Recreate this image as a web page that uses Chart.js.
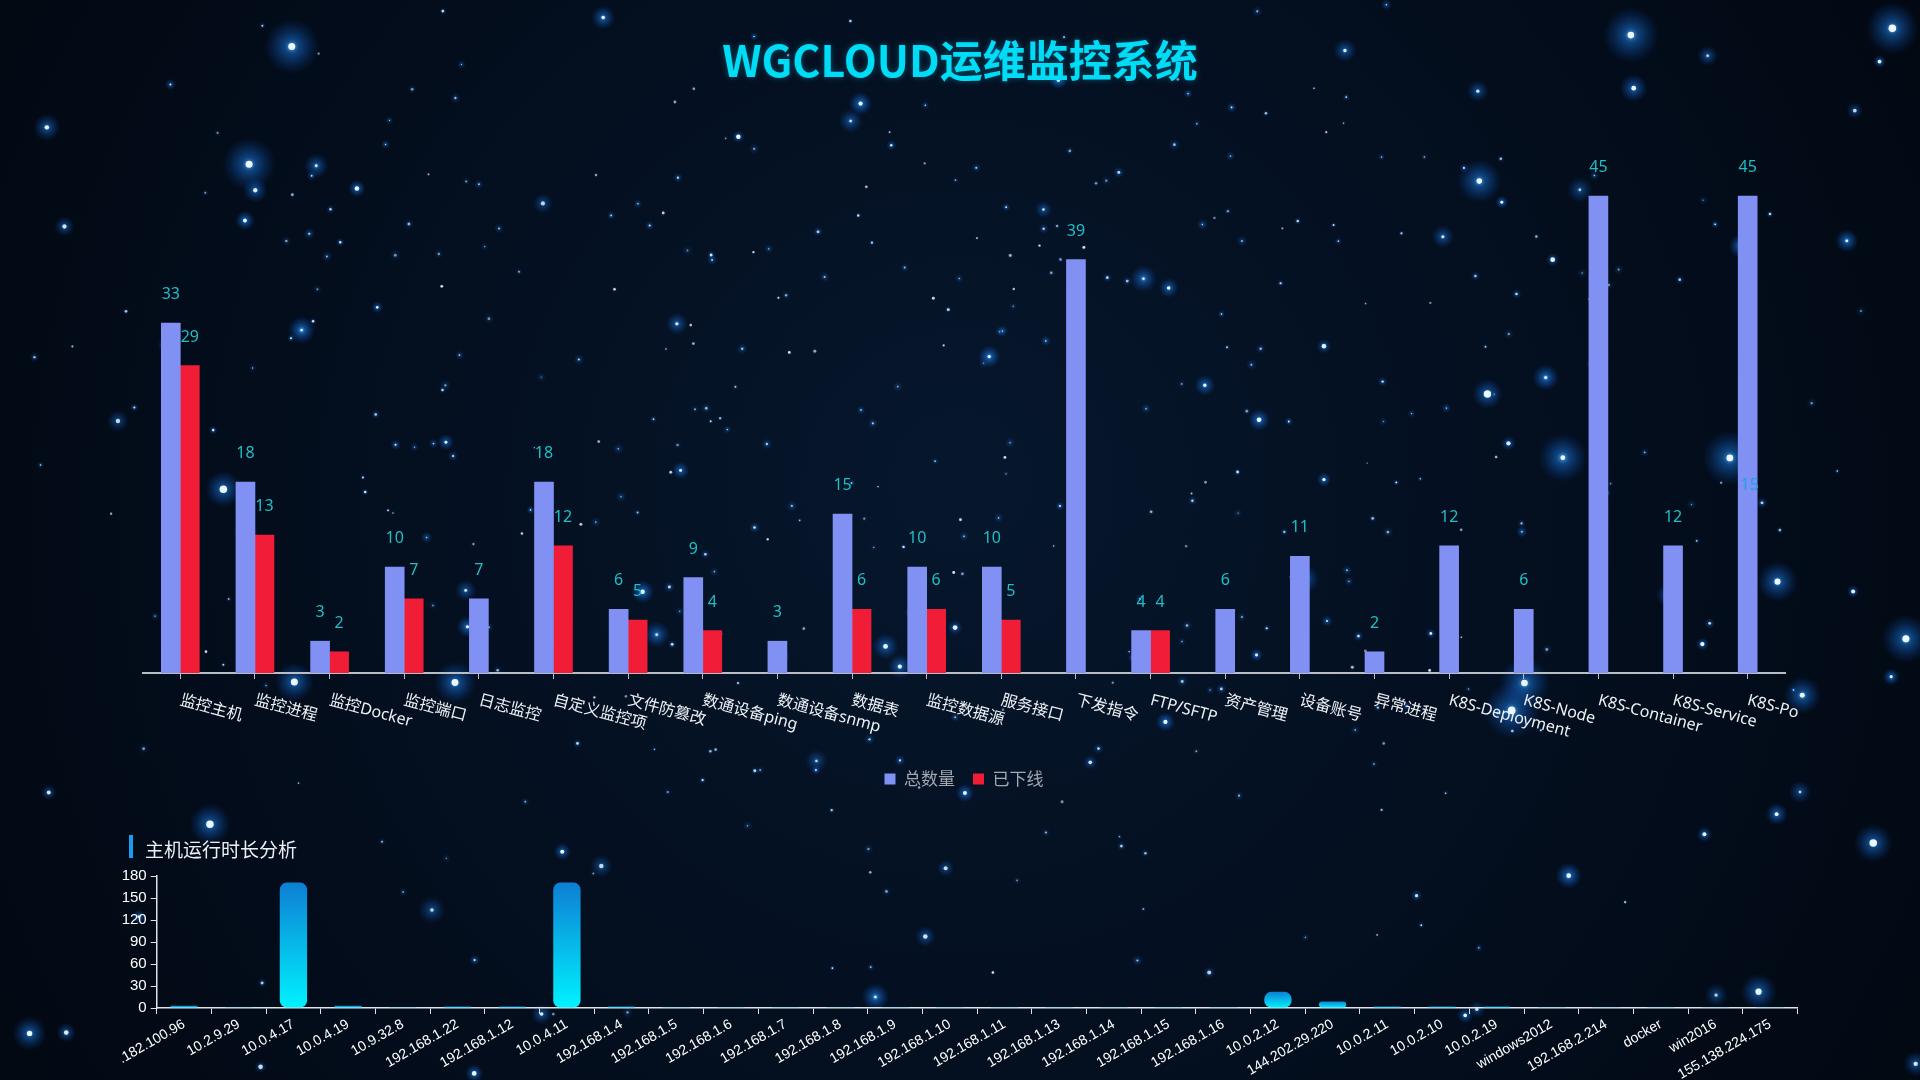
<!DOCTYPE html>
<html>
<head>
<meta charset="utf-8">
<script src="https://cdn.jsdelivr.net/npm/chart.js@4.4.1/dist/chart.umd.min.js"></script>
<style>
  html, body { margin:0; padding:0; }
  body { width:1920px; height:1080px; overflow:hidden; position:relative; background:#020a16; }
  #bg { position:absolute; left:0; top:0; }
  #title { position:absolute; left:0; top:33px; width:1920px; text-align:center; font:700 43px "Noto Sans CJK SC", "Noto Sans", sans-serif; line-height:50px; color:#00dcf5; text-shadow:0 0 6px rgba(0,200,255,0.35); }
  #c1 { position:absolute; left:0; top:0; }
  #c2 { position:absolute; left:0; top:820px; }
  #sub { position:absolute; left:129px; top:835px; height:23px; line-height:23px; padding-left:12px; border-left:4px solid #1a9cf0; font:19px "Noto Sans CJK SC", sans-serif; color:#eceff3; }
</style>
</head>
<body>
<canvas id="bg" width="1920" height="1080"></canvas>
<div id="title">WGCLOUD运维监控系统</div>
<canvas id="c1" width="1920" height="800"></canvas>
<div id="sub">主机运行时长分析</div>
<canvas id="c2" width="1920" height="260"></canvas>
<script>
// ---------------- data ----------------
const categories = ['监控主机','监控进程','监控Docker','监控端口','日志监控','自定义监控项','文件防篡改','数通设备ping','数通设备snmp','数据表','监控数据源','服务接口','下发指令','FTP/SFTP','资产管理','设备账号','异常进程','K8S-Deployment','K8S-Node','K8S-Container','K8S-Service','K8S-Po'];
const totalCounts   = [33,18,3,10,7,18,6,9,3,15,10,10,39,4,6,11,2,12,6,45,12,45];
const offlineCounts = [29,13,2,7,null,12,5,4,null,6,6,5,null,4,null,null,null,null,null,null,null,null];
const podOfflineLabel = 15;   // value label shown on the K8S-Po bar (no red bar visible)
const seriesNames = ['总数量','已下线'];
const valueAxisMax = 50;

const hostNames = ['.182.100.96','10.2.9.29','10.0.4.17','10.0.4.19','10.9.32.8','192.168.1.22','192.168.1.12','10.0.4.11','192.168.1.4','192.168.1.5','192.168.1.6','192.168.1.7','192.168.1.8','192.168.1.9','192.168.1.10','192.168.1.11','192.168.1.13','192.168.1.14','192.168.1.15','192.168.1.16','10.0.2.12','144.202.29.220','10.0.2.11','10.0.2.10','10.0.2.19','windows2012','192.168.2.214','docker','win2016','155.138.224.175'];
const hostUptime = [3,1,171,3,1,2,2,171,2,1,1,1,1,1,1,1,1,1,1,1,22,9,2,2,2,1,1,1,1,1];
const uptimeTicks = [0,30,60,90,120,150,180];

// ---------------- background (decorative starfield, seeded) ----------------
(function drawBackground(){
  const cv = document.getElementById('bg');
  const g = cv.getContext('2d');
  const grd = g.createRadialGradient(960, 480, 50, 960, 540, 1150);
  grd.addColorStop(0, '#06162b');
  grd.addColorStop(0.6, '#030d1c');
  grd.addColorStop(1, '#020811');
  g.fillStyle = grd;
  g.fillRect(0, 0, 1920, 1080);
  let s = 987654321;
  const r = () => { s = (s * 16807) % 2147483647; return s / 2147483647; };
  function star(x, y, core, glow, a) {
    const rg = g.createRadialGradient(x, y, 0, x, y, glow);
    rg.addColorStop(0, 'rgba(120,200,255,' + a + ')');
    rg.addColorStop(0.25, 'rgba(30,140,255,' + (a * 0.55) + ')');
    rg.addColorStop(1, 'rgba(10,80,200,0)');
    g.fillStyle = rg;
    g.beginPath(); g.arc(x, y, glow, 0, Math.PI * 2); g.fill();
    g.fillStyle = 'rgba(235,248,255,' + Math.min(1, a + 0.2) + ')';
    g.beginPath(); g.arc(x, y, core, 0, Math.PI * 2); g.fill();
  }
  for (let i = 0; i < 380; i++) {
    const cx = 960 + (r() - 0.5) * 1920 * (0.45 + r() * 0.6);
    const cy = 470 + (r() - 0.5) * 1080 * (0.45 + r() * 0.6);
    star(cx, cy, 0.6 + r() * 0.9, 2 + r() * 4, 0.25 + r() * 0.45);
  }
  for (let i = 0; i < 80; i++) {
    star(r() * 1920, r() * 1080, 1.2 + r() * 1.2, 6 + r() * 8, 0.55 + r() * 0.4);
  }
  for (let i = 0; i < 22; i++) {
    let x = r() * 1920, y = r() * 1080;
    if (Math.abs(x - 960) < 500 && r() < 0.7) x = x < 960 ? x - 500 : x + 500;
    x = Math.max(10, Math.min(1910, x));
    star(x, y, 2.2 + r() * 1.8, 14 + r() * 16, 0.8);
  }
})();

// ---------------- plugins for the top chart ----------------
const FONT = '"Noto Sans", "Noto Sans CJK SC", sans-serif';
const valueLabels = {
  id: 'valueLabels',
  afterDatasetsDraw(chart) {
    const ctx = chart.ctx;
    ctx.save();
    ctx.font = '16px ' + FONT;
    ctx.textAlign = 'center';
    ctx.textBaseline = 'middle';
    ctx.fillStyle = '#20bfc6';
    chart.data.datasets.forEach((ds, di) => {
      const meta = chart.getDatasetMeta(di);
      meta.data.forEach((bar, i) => {
        const v = ds.data[i];
        if (v === null || v === undefined) return;
        ctx.fillText(String(v), bar.x, bar.y - 28.5);
      });
    });
    const x = chart.scales.x, y = chart.scales.y;
    ctx.fillStyle = '#1ca3ea';
    ctx.fillText(String(podOfflineLabel), x.getPixelForValue(categories.length - 1) + 2, y.getPixelForValue(podOfflineLabel) - 28.5);
    ctx.restore();
  }
};
const rotatedXLabels = {
  id: 'rotatedXLabels',
  afterDraw(chart) {
    const ctx = chart.ctx, x = chart.scales.x;
    ctx.save();
    ctx.font = '16px ' + FONT;
    ctx.fillStyle = '#eef1f5';
    ctx.textAlign = 'left';
    ctx.textBaseline = 'middle';
    categories.forEach((lab, i) => {
      ctx.save();
      ctx.translate(x.getPixelForValue(i), x.top + 27);
      ctx.rotate(15 * Math.PI / 180);
      ctx.fillText(lab, 0, 0);
      ctx.restore();
    });
    ctx.restore();
  }
};

new Chart(document.getElementById('c1'), {
  type: 'bar',
  data: {
    labels: categories,
    datasets: [
      { label: seriesNames[0], data: totalCounts, backgroundColor: '#8190f3', barThickness: 19, skipNull: true, borderWidth: 0 },
      { label: seriesNames[1], data: offlineCounts, backgroundColor: '#f11d37', barThickness: 19, skipNull: true, borderWidth: 0 }
    ]
  },
  options: {
    responsive: false,
    animation: false,
    layout: { padding: { left: 143, right: 135, top: 143, bottom: 2.5 } },
    scales: {
      x: {
        grid: { offset: false, drawOnChartArea: false, drawTicks: true, tickLength: 6, color: '#b9bec6' },
        border: { display: true, color: '#b9bec6', width: 2 },
        ticks: { display: false },
        afterFit(s) { s.height = 79.5; }
      },
      y: { display: false, min: 0, max: valueAxisMax }
    },
    plugins: {
      legend: {
        position: 'bottom',
        labels: { boxWidth: 11, boxHeight: 11, padding: 18, color: '#a3a8b0', font: { size: 17, family: '"Noto Sans CJK SC", sans-serif' } }
      },
      tooltip: { enabled: false }
    }
  },
  plugins: [valueLabels, rotatedXLabels]
});

// ---------------- bottom chart ----------------
function uptimeGradient(c) {
  const chart = c.chart;
  if (!chart.chartArea || c.raw == null) return '#06b6ee';
  const y = chart.scales.y;
  const top = y.getPixelForValue(c.raw), bot = y.getPixelForValue(0);
  const g = chart.ctx.createLinearGradient(0, top, 0, bot);
  g.addColorStop(0, '#0d7fd3');
  g.addColorStop(1, '#00f2ff');
  return g;
}
const LFONT = '"Liberation Sans", Arial, sans-serif';
new Chart(document.getElementById('c2'), {
  type: 'bar',
  data: {
    labels: hostNames,
    datasets: [{ label: '运行时长', data: hostUptime, backgroundColor: uptimeGradient, borderRadius: 7, borderSkipped: false, categoryPercentage: 0.5, barPercentage: 1 }]
  },
  options: {
    responsive: false,
    animation: false,
    layout: { padding: { left: 106.7, right: 122.5, top: 56, bottom: 0 } },
    scales: {
      x: {
        grid: { offset: true, drawOnChartArea: false, tickLength: 6, color: '#dfe3e8' },
        border: { display: true, color: '#dfe3e8', width: 1.5 },
        ticks: { autoSkip: false, maxRotation: 30, minRotation: 30, color: '#ffffff', padding: 2, font: { size: 14, family: LFONT } },
        afterFit(s) { s.height = 72; }
      },
      y: {
        min: 0, max: 180,
        afterBuildTicks(s) { s.ticks = uptimeTicks.map(v => ({ value: v })); },
        ticks: { color: '#ffffff', padding: 4, font: { size: 15, family: LFONT } },
        grid: { drawOnChartArea: false, tickLength: 6, color: '#dfe3e8' },
        border: { display: true, color: '#dfe3e8', width: 1.5 },
        afterFit(s) { s.width = 50; }
      }
    },
    plugins: { legend: { display: false }, tooltip: { enabled: false } }
  }
});
</script>
</body>
</html>
